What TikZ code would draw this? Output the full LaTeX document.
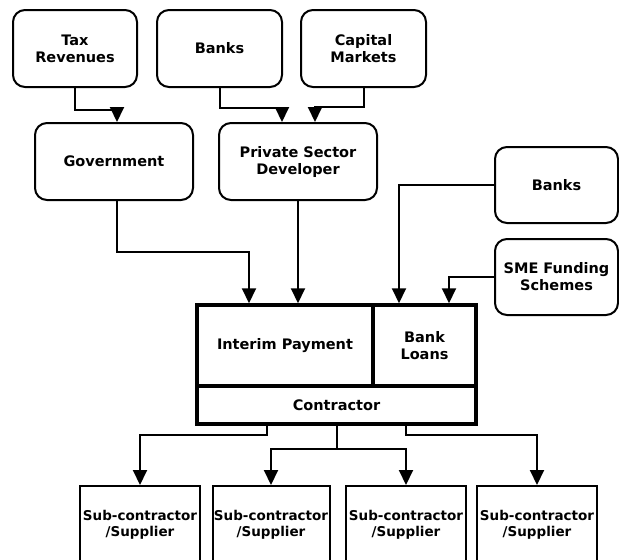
\documentclass[tikz,border=0pt]{standalone}
\usepackage{fontspec}
\setmainfont{DejaVu Sans}
\usepackage{xcolor}
\usepackage{tikz}
\usetikzlibrary{positioning, arrows.meta, calc}

\tikzset{
    source/.style={draw, line width=2pt, rounded corners=12pt, align=center,
        minimum height=77pt, inner sep=2pt,
        font=\fontsize{14.5}{17}\selectfont\bfseries},
    fundbox/.style={draw, line width=3.5pt, align=center, inner sep=2pt,
        font=\fontsize{14.5}{17}\selectfont\bfseries},
    subbox/.style={draw, line width=2pt, minimum width=120pt, minimum height=78pt,
        align=center, inner sep=1pt,
        font=\fontsize{13.5}{16}\selectfont\bfseries},
    flow/.style={line width=2pt, -{Triangle[length=15pt,width=14pt]}},
}

\begin{document}
\begin{tikzpicture}[x=1pt, y=-1pt]
    \useasboundingbox (0,0) rectangle (619,560);
    \clip (0,0) rectangle (619,560);

    % funding sources
    \node[source, minimum width=124pt] (tax) at (75,48.5) {Tax\\Revenues};
    \node[source, minimum width=125pt] (banksA) at (219.5,48.5) {Banks};
    \node[source, minimum width=125pt] (capital) at (363.5,48.5) {Capital\\Markets};
    \node[source, minimum width=158pt] (gov) at (114,161.5) {Government};
    \node[source, minimum width=158pt] (psd) at (298,161.5) {Private Sector\\Developer};
    \node[source, minimum width=123pt, minimum height=76pt] (banksB) at (556.5,185) {Banks};
    \node[source, minimum width=123pt, minimum height=76pt] (sme) at (556.5,277) {SME Funding\\Schemes};

    % contractor block
    \node[fundbox, minimum width=176pt, minimum height=81pt] (interim) at (285,345.5) {Interim Payment};
    \node[fundbox, minimum width=103pt, minimum height=81pt] (loans) at (424.5,345.5) {Bank\\Loans};
    \node[fundbox, minimum width=279pt, minimum height=38pt] (contractor) at (336.5,405) {Contractor};

    % sub-contractors
    \node[subbox] (sub1) at (140,525) {Sub-contractor\\/Supplier};
    \node[subbox, minimum width=117pt] (sub2) at (271,525) {Sub-contractor\\/Supplier};
    \node[subbox] (sub3) at (406,525) {Sub-contractor\\/Supplier};
    \node[subbox] (sub4) at (537,525) {Sub-contractor\\/Supplier};

    \draw[flow] (tax.south) -- ++(0,22) -| ([xshift=3pt]gov.north);
    \draw[flow] (banksA.south) -- ++(0,20) -| ([xshift=-16pt]psd.north);
    \draw[flow] (capital.south) -- ++(0,19) -| ([xshift=17pt]psd.north);
    \draw[flow] ([xshift=3pt]gov.south) -- ++(0,51) -| ([xshift=-36pt]interim.north);
    \draw[flow] (psd.south) -- (psd.south |- interim.north);
    \draw[flow] (banksB.west) -| ([xshift=-25.5pt]loans.north);
    \draw[flow] (sme.west) -| ([xshift=24.5pt]loans.north);

    \draw[flow] ([xshift=-69.5pt]contractor.south) -- ++(0,9) -| (sub1.north);
    \draw[line width=2pt] (contractor.south) -- ++(0,23) coordinate (split);
    \draw[flow] (split) -| (sub2.north);
    \draw[flow] (split) -| (sub3.north);
    \draw[flow] ([xshift=69.5pt]contractor.south) -- ++(0,9) -| (sub4.north);
\end{tikzpicture}
\end{document}
